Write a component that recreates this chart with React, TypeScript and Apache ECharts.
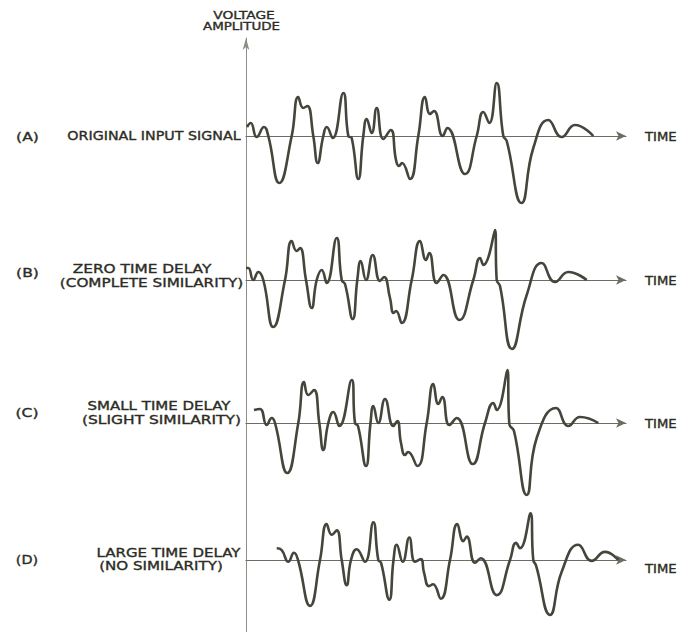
import React, { useEffect, useRef } from "react";
import * as echarts from "echarts";

// ---- Waveform data (time units, amplitude units; baseline = 0) ----
const timeA = [1, 4.7, 10.7, 18, 22.3, 33.3, 45.7, 52.3, 57.3, 61.3, 67.3, 71.7, 77.3, 80.7, 86.7, 97.3, 102.3, 105.7, 112.3, 117.3, 120.7, 125.7, 130.7, 137.3, 144.7, 150, 153, 156, 164, 172.3, 179, 184, 188, 196.7, 201.3, 219, 230.7, 237.3, 243.3, 250.7, 257.3, 260.7, 275.5, 287.3, 302.3, 315.7, 329, 347.3];
const voltA = [9, 13, -1, 9, 0, -47, 0, 39, 28, 30, 0, -27, 0, 9, -2, 43, 0, -2, -43, 0, 17, 3, 28, -3, 6, -24, -30, -27, -43, 0, 39, 22, 25, 0, 8, -38, 0, 24, 13, 53, 0, -5, -67, -12, 16, -1, 11, 0];

const timeB = [0, 2.3, 7.3, 12.3, 17.3, 27.3, 39, 45.7, 50.7, 54, 60, 65.7, 70.7, 75.7, 80.7, 90.7, 95.7, 99, 106.7, 111.3, 114.7, 120, 126.7, 134, 138, 144, 147.5, 150, 155.7, 165.7, 174, 180, 183.3, 190.7, 197.3, 213.3, 227.3, 234, 237.3, 249, 250.7, 254, 266, 280.7, 295.7, 309, 322.3, 340.7];
const voltB = [12, 12, 0, 8, 0, -47, 0, 39, 29, 32, 0, -28, 0, 10, -3, 42, 0, -4, -39, 0, 19, 0, 25, -1, 3, -18, -33, -31, -43, 0, 39, 20, 27, -3, 5, -40, 0, 22, 15, 50, 0, -6, -69, -15, 17, -2, 8, 0];

const timeC = [8, 14, 20.7, 25.7, 29, 41.3, 52.3, 58, 62.3, 68, 73.3, 77.3, 82.3, 87.3, 93.3, 105.7, 109, 112, 120, 124.5, 127.3, 132.3, 139, 147.3, 151.3, 155, 159, 162, 171.3, 180.7, 187.3, 192.3, 196.3, 203.3, 210.7, 226.7, 239, 247.3, 250.7, 261.3, 263.3, 268, 280.7, 290.7, 310, 322.3, 334, 352.3];
const voltC = [13, 14, -2, 5, 0, -50, 0, 41, 28, 33, 0, -27, 0, 11, -3, 43, 0, -3, -43, 0, 17, 0, 24, -3, 2, -20, -32, -29, -43, 0, 39, 19, 26, -2, 5, -41, 0, 20, 13, 53, -1, -8, -72, -15, 15, -3, 6, 0];

const timeD = [30.7, 35.7, 42.3, 48, 52, 64, 74, 80.7, 85.7, 90.7, 95.7, 100.7, 105, 110.7, 119, 127.3, 132.3, 135, 143.3, 147.5, 150.7, 156.7, 163.3, 169, 174.7, 178, 183, 187, 194.7, 204, 211.3, 217.3, 220.7, 229, 234.7, 250.7, 264, 270, 274, 284.5, 287.3, 290, 304, 315.7, 332.3, 345.7, 359, 372.3];
const voltD = [13, 11, -2, 8, 0, -51, 0, 40, 28, 33, 0, -28, 0, 12, -2, 42, 0, -3, -44, 0, 17, -2, 25, -2, 1, -14, -29, -27, -43, 0, 40, 21, 26, -3, 2, -39, 0, 19, 13, 52, 0, -6, -61, -13, 17, -1, 9, 0];

// ---- Texts ----
const panelTags = ["(A)", "(B)", "(C)", "(D)"];
const captionLine1 = ["ORIGINAL INPUT SIGNAL", "ZERO TIME DELAY", "SMALL TIME DELAY", "LARGE TIME DELAY"];
const captionLine2 = ["", "(COMPLETE SIMILARITY)", "(SLIGHT SIMILARITY)", "(NO SIMILARITY)"];
const axisTitle = ["VOLTAGE", "AMPLITUDE"];
const timeLabel = "TIME";

// ---- Layout (pixels) ----
const baselines = [136, 280, 423, 568];
const AXIS_X = 246;
const AXIS_W = 380;
const HALF = 80;
const tagPos = [
  { x: 27.5, y: 137, sx: 1.3 },
  { x: 27.5, y: 273, sx: 1.3 },
  { x: 27, y: 413, sx: 1.3 },
  { x: 27, y: 560, sx: 1.2 },
];
const line1Pos = [
  { x: 154, y: 136, sx: 1.19 },
  { x: 142, y: 269, sx: 1.28 },
  { x: 159, y: 406, sx: 1.25 },
  { x: 168.5, y: 553, sx: 1.25 },
];
const line2Pos = [
  null,
  { x: 151.5, y: 283, sx: 1.27 },
  { x: 161.5, y: 420, sx: 1.29 },
  { x: 161, y: 566, sx: 1.26 },
];

const TEXT = "#2c2c24";
const WAVE = "#45453b";
const FONT = "DejaVu Sans";

function txt(text: string, x: number, y: number, sx: number, align: string, size: number) {
  return {
    type: "text",
    x,
    y,
    scaleX: sx,
    silent: true,
    style: {
      text,
      fontSize: size,
      fontFamily: FONT,
      fill: TEXT,
      stroke: TEXT,
      lineWidth: 0.35,
      align,
      textAlign: align,
      verticalAlign: "middle",
      textVerticalAlign: "middle",
    },
  };
}

export default function App() {
  const ref = useRef<HTMLDivElement>(null);
  useEffect(() => {
    if (!ref.current) return;
    const chart = echarts.init(ref.current, undefined, { renderer: "svg" });
    const times = [timeA, timeB, timeC, timeD];
    const volts = [voltA, voltB, voltC, voltD];

    const grids: any[] = [];
    const xAxes: any[] = [];
    const yAxes: any[] = [];
    const series: any[] = [];

    baselines.forEach((b, i) => {
      grids.push({ left: AXIS_X, top: b - HALF, width: AXIS_W, height: HALF * 2 });
      xAxes.push({
        gridIndex: i,
        type: "value",
        min: 0,
        max: AXIS_W,
        axisLine: {
          show: true,
          onZero: true,
          symbol: ["none", "arrow"],
          symbolSize: [7, 10],
          lineStyle: { color: "#6c6c62", width: 1.2 },
        },
        axisTick: { show: false },
        axisLabel: { show: false },
        splitLine: { show: false },
      });
      yAxes.push({ gridIndex: i, type: "value", min: -HALF, max: HALF, show: false });
      series.push({
        type: "line",
        xAxisIndex: i,
        yAxisIndex: i,
        data: times[i].map((t, k) => [t, volts[i][k]]),
        smooth: 0.5,
        showSymbol: false,
        clip: false,
        silent: true,
        lineStyle: { width: 2.6, color: WAVE },
      });
    });

    // vertical voltage axis
    grids.push({ left: AXIS_X, top: 38, width: 100, height: 632 - 38 });
    xAxes.push({ gridIndex: 4, type: "value", min: 0, max: 1, show: false });
    yAxes.push({
      gridIndex: 4,
      type: "value",
      min: 0,
      max: 1,
      axisLine: {
        show: true,
        onZero: false,
        symbol: ["none", "arrow"],
        symbolSize: [5, 12],
        lineStyle: { color: "#8e8e84", width: 1 },
      },
      axisTick: { show: false },
      axisLabel: { show: false },
      splitLine: { show: false },
    });

    const graphics: any[] = [];
    graphics.push(txt(axisTitle[0], 244, 15, 1.25, "center", 11));
    graphics.push(txt(axisTitle[1], 241.5, 26, 1.22, "center", 11));
    panelTags.forEach((t, i) => {
      graphics.push(txt(t, tagPos[i].x, tagPos[i].y, tagPos[i].sx, "center", 12));
      graphics.push(txt(captionLine1[i], line1Pos[i].x, line1Pos[i].y, line1Pos[i].sx, "center", 12));
      const p2 = line2Pos[i];
      if (p2 && captionLine2[i]) graphics.push(txt(captionLine2[i], p2.x, p2.y, p2.sx, "center", 12));
      graphics.push(txt(timeLabel, 645, baselines[i] + 1, 1.1, "left", 12));
    });

    chart.setOption({
      animation: false,
      backgroundColor: "#ffffff",
      grid: grids,
      xAxis: xAxes,
      yAxis: yAxes,
      series,
      graphic: { elements: graphics },
    });
    return () => chart.dispose();
  }, []);
  return (
    <div
      ref={ref}
      style={{ position: "absolute", left: 0, top: 0, width: 689, height: 632 }}
    />
  );
}
